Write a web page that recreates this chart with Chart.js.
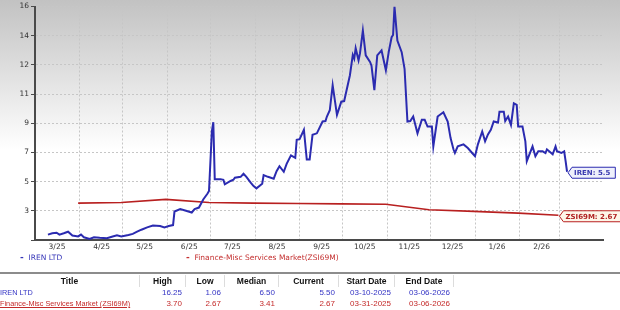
<!DOCTYPE html>
<html>
<head>
<meta charset="utf-8">
<script src="https://cdn.jsdelivr.net/npm/chart.js@4.4.1/dist/chart.umd.min.js"></script>
<style>
  body { margin: 0; width: 620px; height: 310px; overflow: hidden; background: #fff; position: relative; font-family: "Liberation Sans", Arial, sans-serif; }
  #wrap { position: absolute; left: 0; top: 0; width: 620px; height: 255px; }
  #legend { position: absolute; top: 252px; left: 0; width: 620px; height: 12px; font: 7.5px "DejaVu Sans", sans-serif; }
  #legend span { position: absolute; top: 0; white-space: nowrap; }
  #sep { position: absolute; top: 272px; left: 0; width: 620px; height: 0; border-top: 2px solid #8c8c8c; }
  .row { position: absolute; left: 0; height: 11px; }
  .cell { position: absolute; top: 0; height: 11px; line-height: 11px; white-space: nowrap; }
  .hdr .cell { font-weight: bold; font-size: 8.5px; text-align: center; color: #111; border-right: 1px solid #dcdcdc; height: 12px; line-height: 12px; }
  .val { font-size: 8px; text-align: right; }
</style>
</head>
<body>
<div id="wrap"><canvas id="chart" width="620" height="255"></canvas></div>
<div id="legend"></div>
<div id="sep"></div>
<div id="table"></div>
<script>
const irenDates = [
  '2025-03-10','2025-03-13','2025-03-16','2025-03-18','2025-03-21','2025-03-24','2025-03-27','2025-03-31',
  '2025-04-02','2025-04-04','2025-04-08','2025-04-11','2025-04-15','2025-04-20','2025-04-24','2025-04-27','2025-04-30',
  '2025-05-05','2025-05-08','2025-05-11','2025-05-14','2025-05-18','2025-05-22','2025-05-27','2025-05-30',
  '2025-06-02','2025-06-05','2025-06-06','2025-06-10','2025-06-14','2025-06-18','2025-06-20','2025-06-23','2025-06-26','2025-06-29','2025-06-30',
  '2025-07-02','2025-07-03','2025-07-04','2025-07-08','2025-07-10','2025-07-11','2025-07-15','2025-07-17','2025-07-18','2025-07-22','2025-07-24','2025-07-26','2025-07-29','2025-07-31',
  '2025-08-02','2025-08-06','2025-08-07','2025-08-10','2025-08-14','2025-08-16','2025-08-18','2025-08-21','2025-08-23','2025-08-26','2025-08-29','2025-08-30',
  '2025-09-01','2025-09-04','2025-09-06','2025-09-08','2025-09-10','2025-09-13','2025-09-17','2025-09-19','2025-09-20','2025-09-22','2025-09-24','2025-09-27','2025-09-30',
  '2025-10-02','2025-10-06','2025-10-08','2025-10-09','2025-10-10','2025-10-12','2025-10-13','2025-10-15','2025-10-17','2025-10-20','2025-10-21','2025-10-23','2025-10-25','2025-10-28','2025-10-31',
  '2025-11-02','2025-11-04','2025-11-05','2025-11-06','2025-11-08','2025-11-11','2025-11-13','2025-11-15','2025-11-17','2025-11-19','2025-11-22','2025-11-25','2025-11-27','2025-11-29',
  '2025-12-02','2025-12-03','2025-12-06','2025-12-10','2025-12-13','2025-12-15','2025-12-17','2025-12-18','2025-12-20','2025-12-24','2025-12-27','2025-12-30',
  '2026-01-01','2026-01-03','2026-01-06','2026-01-08','2026-01-10','2026-01-12','2026-01-14','2026-01-17','2026-01-18','2026-01-21','2026-01-22','2026-01-24','2026-01-26','2026-01-28','2026-01-30','2026-01-31',
  '2026-02-03','2026-02-05','2026-02-06','2026-02-10','2026-02-12','2026-02-14','2026-02-17','2026-02-19','2026-02-20','2026-02-24','2026-02-26','2026-02-27',
  '2026-03-02','2026-03-04','2026-03-05','2026-03-06'
];
const irenValues = [
  1.41,1.50,1.53,1.41,1.50,1.60,1.35,1.29,
  1.41,1.24,1.13,1.24,1.20,1.17,1.29,1.37,1.29,
  1.39,1.46,1.60,1.73,1.88,2.00,1.97,1.88,
  1.97,2.03,2.91,3.07,2.96,2.85,3.07,3.17,3.70,4.08,4.25,
  8.12,8.72,5.02,5.02,4.98,4.68,4.90,4.98,5.11,5.17,5.37,5.17,4.79,4.57,
  4.42,4.72,5.28,5.17,5.05,5.54,5.86,5.50,6.01,6.57,6.40,7.58,
  7.62,8.23,6.29,6.29,7.90,8.00,8.77,8.80,9.09,9.50,11.13,9.20,10.06,
  10.10,11.78,13.10,12.85,13.54,12.75,13.20,14.68,13.07,12.64,12.40,10.81,13.07,13.39,12.10,
  13.30,14.25,14.40,16.25,14.04,13.28,12.20,8.77,8.80,9.09,8.00,8.88,8.88,8.44,
  8.44,7.15,9.09,9.37,8.77,7.69,6.96,6.72,7.15,7.28,7.04,6.72,
  6.51,7.28,8.12,7.48,7.93,8.23,8.77,8.70,9.41,9.41,8.80,9.09,8.55,9.95,9.85,8.44,
  8.44,7.48,6.19,7.15,6.51,6.83,6.83,6.72,6.96,6.64,7.15,6.83,
  6.72,6.83,6.19,5.50
];
const zsiDates = ['2025-03-31','2025-04-30','2025-05-31','2025-06-30','2025-07-31','2025-08-31',
  '2025-09-30','2025-10-31','2025-11-30','2025-12-31','2026-01-31','2026-02-28'];
const zsiValues = [3.46,3.50,3.70,3.50,3.46,3.43,3.41,3.39,3.03,2.92,2.81,2.67];

const monthStarts = ['2025-03-01','2025-04-01','2025-05-01','2025-06-01','2025-07-01','2025-08-01','2025-09-01',
  '2025-10-01','2025-11-01','2025-12-01','2026-01-01','2026-02-01','2026-03-01'];
const xTickLabels = ['3/25','4/25','5/25','6/25','7/25','8/25','9/25','10/25','11/25','12/25','1/26','2/26',''];
const yTickValues = [1.06,2.96,4.86,6.76,8.66,10.55,12.45,14.35,16.25];
const yTickLabels = ['','3','5','7','9','11','12','14','16'];

const legendItems = ['IREN LTD', 'Finance-Misc Services Market(ZSI69M)'];
const tableHeader = ['Title','High','Low','Median','Current','Start Date','End Date'];
const tableRows = [
  ['IREN LTD','16.25','1.06','6.50','5.50','03-10-2025','03-06-2026'],
  ['Finance-Misc Services Market (ZSI69M)','3.70','2.67','3.41','2.67','03-31-2025','03-06-2026']
];

const BLUE = '#2b2bb0';
const RED = '#b82020';
const rowColors = ['#3434c4', '#c42a2a'];

const startDay = Date.parse('2025-03-01');
const dayNum = s => (Date.parse(s) - startDay) / 86400000;

const gridColor = c => c.index === 0 ? 'rgba(0,0,0,0)' : '#c6c6c6';

const bgPlugin = {
  id: 'bg',
  beforeDraw(chart) {
    const ctx = chart.ctx;
    const g = ctx.createLinearGradient(0, 0, 0, 150);
    g.addColorStop(0, '#c2c2c2');
    g.addColorStop(1, '#ffffff');
    ctx.save();
    ctx.fillStyle = g;
    ctx.fillRect(0, 0, chart.width, chart.height);
    ctx.restore();
  }
};

const endLabels = {
  id: 'endLabels',
  afterDatasetsDraw(chart) {
    const ctx = chart.ctx;
    chart.data.datasets.forEach((ds, i) => {
      const pts = chart.getDatasetMeta(i).data;
      const p = pts[pts.length - 1];
      ctx.save();
      ctx.font = 'bold 7px "DejaVu Sans"';
      const w = ctx.measureText(ds.endLabel).width + 7;
      const x = p.x + 1, y = p.y + 1, h = 11;
      ctx.beginPath();
      ctx.moveTo(x, y);
      ctx.lineTo(x + 4, y - h / 2);
      ctx.lineTo(x + 4 + w, y - h / 2);
      ctx.lineTo(x + 4 + w, y + h / 2);
      ctx.lineTo(x + 4, y + h / 2);
      ctx.closePath();
      ctx.fillStyle = ds.labelFill;
      ctx.fill();
      ctx.strokeStyle = ds.borderColor;
      ctx.lineWidth = 1;
      ctx.stroke();
      ctx.fillStyle = ds.labelColor;
      ctx.textBaseline = 'middle';
      ctx.fillText(ds.endLabel, x + 6, y + 0.5);
      ctx.restore();
    });
  }
};

new Chart(document.getElementById('chart'), {
  type: 'line',
  data: {
    datasets: [
      {
        label: legendItems[0],
        data: irenDates.map((d, i) => ({ x: dayNum(d), y: irenValues[i] })),
        borderColor: BLUE,
        borderWidth: 2,
        pointRadius: 0,
        tension: 0,
        endLabel: 'IREN: 5.5',
        labelFill: '#eef0fb',
        labelColor: '#3a3ab0'
      },
      {
        label: legendItems[1],
        data: zsiDates.map((d, i) => ({ x: dayNum(d), y: zsiValues[i] })),
        borderColor: RED,
        borderWidth: 1.6,
        pointRadius: 0,
        tension: 0,
        endLabel: 'ZSI69M: 2.67',
        labelFill: '#fdf6e8',
        labelColor: '#b02222'
      }
    ]
  },
  options: {
    responsive: false,
    animation: false,
    layout: { padding: { top: 0, right: 17, left: 0, bottom: 0 } },
    plugins: { legend: { display: false }, tooltip: { enabled: false } },
    scales: {
      x: {
        type: 'linear',
        min: 0,
        max: dayNum('2026-03-31'),
        afterBuildTicks: s => { s.ticks = monthStarts.map(d => ({ value: dayNum(d) })); },
        afterFit: s => { s.height = 15; },
        grid: { color: gridColor, drawTicks: false, lineWidth: 1 },
        border: { color: '#4a4a4a', width: 2, dash: [2, 2] },
        ticks: {
          autoSkip: false,
          maxRotation: 0,
          padding: 3,
          labelOffset: 22,
          color: '#333',
          font: { family: 'DejaVu Sans', size: 7.5 },
          callback: (v, i) => xTickLabels[i]
        }
      },
      y: {
        min: yTickValues[0],
        max: yTickValues[yTickValues.length - 1],
        afterBuildTicks: s => { s.ticks = yTickValues.map(v => ({ value: v })); },
        afterFit: s => { s.width = 35; },
        grid: { color: gridColor, tickColor: '#4a4a4a', tickLength: 4, lineWidth: 1 },
        border: { color: '#4a4a4a', width: 2, dash: [2, 2] },
        ticks: {
          padding: 2,
          color: '#333',
          font: { family: 'DejaVu Sans', size: 7.5 },
          callback: (v, i) => yTickLabels[i]
        }
      }
    }
  },
  plugins: [bgPlugin, endLabels]
});

// legend
const legend = document.getElementById('legend');
const legendX = [20, 186];
legendItems.forEach((t, i) => {
  const s = document.createElement('span');
  s.style.left = legendX[i] + 'px';
  s.style.color = i === 0 ? '#3636b8' : '#c43030';
  s.innerHTML = '<b style="font-size:9px">-</b>&nbsp; ' + t;
  legend.appendChild(s);
});

// table
const colEdges = [0, 140, 186, 225, 279, 339, 395, 454];
const table = document.getElementById('table');
const hdr = document.createElement('div');
hdr.className = 'row hdr';
hdr.style.top = '275px';
tableHeader.forEach((h, i) => {
  const c = document.createElement('div');
  c.className = 'cell';
  c.style.left = colEdges[i] + 'px';
  c.style.width = (colEdges[i + 1] - colEdges[i] - 1) + 'px';
  c.textContent = h;
  hdr.appendChild(c);
});
table.appendChild(hdr);
tableRows.forEach((r, ri) => {
  const row = document.createElement('div');
  row.className = 'row';
  row.style.top = (287 + ri * 11) + 'px';
  r.forEach((v, i) => {
    const c = document.createElement('div');
    c.className = 'cell' + (i > 0 ? ' val' : '');
    c.style.left = colEdges[i] + 'px';
    c.style.color = rowColors[ri];
    if (i === 0) {
      c.style.fontSize = '7.3px';
      if (ri === 1) c.style.textDecoration = 'underline';
    } else {
      c.style.width = (colEdges[i + 1] - colEdges[i] - 4) + 'px';
    }
    c.textContent = v;
    row.appendChild(c);
  });
  table.appendChild(row);
});
</script>
</body>
</html>
